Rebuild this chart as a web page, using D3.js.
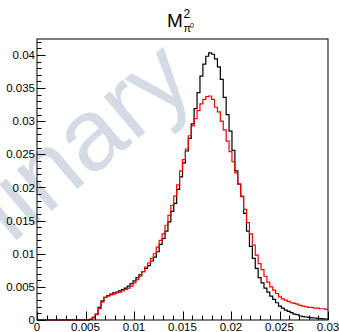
<!DOCTYPE html>
<html>
<head>
<meta charset="utf-8">
<script src="https://cdn.jsdelivr.net/npm/d3@7"></script>
<style>
  body { margin: 0; background: #fff; }
  svg { display: block; font-family: "Liberation Sans", Arial, sans-serif; }
</style>
</head>
<body>
<div id="chart"></div>
<script>
// histogram binning: 100 bins on [0, 0.03]
const xMin = 0, xMax = 0.03, nBins = 100;

// black histogram (bin contents)
const blackCounts = [
  0, 0, 0, 0, 0, 0, 0, 0, 0, 0,
  0, 0, 0, 0, 0, 0, 0, 0, 0.0001, 0.0004,
  0.0009, 0.0019, 0.0029, 0.0034, 0.0037, 0.0039, 0.0041, 0.0042, 0.0044, 0.0046,
  0.0048, 0.0051, 0.0055, 0.0059, 0.0064, 0.0068, 0.0073, 0.0078, 0.0082, 0.0089,
  0.0095, 0.0103, 0.0114, 0.0123, 0.0134, 0.0148, 0.0164, 0.0176, 0.0197, 0.0216,
  0.0237, 0.0255, 0.0274, 0.0296, 0.0319, 0.0343, 0.0368, 0.0386, 0.0398, 0.0403,
  0.0401, 0.0394, 0.0382, 0.0363, 0.0336, 0.0310, 0.0285, 0.0256, 0.0225, 0.0205,
  0.0186, 0.0161, 0.0134, 0.0111, 0.0093, 0.0078, 0.0064, 0.0056, 0.0048, 0.0042,
  0.0036, 0.0031, 0.0026, 0.0021, 0.0018, 0.0015, 0.0013, 0.0011, 0.0009, 0.0008,
  0.0006, 0.0005, 0.00045, 0.0004, 0.00033, 0.0003, 0.00025, 0.0002, 0.00017, 0.00015
];

// red histogram (bin contents)
const redCounts = [
  0, 0, 0, 0, 0, 0, 0, 0, 0, 0,
  0, 0, 0, 0, 0, 0, 0, 0, 0.0001, 0.0003,
  0.0008, 0.0017, 0.0027, 0.0034, 0.0036, 0.0038, 0.0039, 0.0041, 0.0042, 0.0044,
  0.0046, 0.0048, 0.0051, 0.0056, 0.0061, 0.0066, 0.0073, 0.0080, 0.0086, 0.0093,
  0.0100, 0.0110, 0.0120, 0.0130, 0.0143, 0.0158, 0.0173, 0.0187, 0.0204, 0.0225,
  0.0242, 0.0258, 0.0278, 0.0293, 0.0304, 0.0316, 0.0326, 0.0333, 0.0337, 0.0338,
  0.0333, 0.0321, 0.0314, 0.0300, 0.0287, 0.0270, 0.0254, 0.0239, 0.0222, 0.0205,
  0.0187, 0.0167, 0.0147, 0.0130, 0.0113, 0.0098, 0.0085, 0.0076, 0.0066, 0.0057,
  0.0050, 0.0045, 0.0040, 0.0035, 0.0032, 0.0030, 0.0028, 0.0026, 0.0025, 0.0024,
  0.0022, 0.0021, 0.0020, 0.0019, 0.0019, 0.0018, 0.0018, 0.0017, 0.0017, 0.0016
];

const xTicks = [0, 0.005, 0.01, 0.015, 0.02, 0.025, 0.03];
const xTickLabels = ["0", "0.005", "0.01", "0.015", "0.02", "0.025", "0.03"];
const yTicks = [0, 0.005, 0.01, 0.015, 0.02, 0.025, 0.03, 0.035, 0.04];
const yTickLabels = ["0", "0.005", "0.01", "0.015", "0.02", "0.025", "0.03", "0.035", "0.04"];
const yMax = 0.0424;

const W = 339, H = 332;
const frame = { left: 37, right: 328, top: 39, bottom: 320 };

let svg = d3.select("#chart").append("svg")
  .attr("width", W)
  .attr("height", H);

let x = d3.scaleLinear().domain([xMin, xMax]).range([frame.left, frame.right]);
let y = d3.scaleLinear().domain([0, yMax]).range([frame.bottom, frame.top]);

// watermark
svg.append("text")
  .attr("transform", "translate(198,88) rotate(-40)")
  .attr("text-anchor", "end")
  .style("font-size", "102px")
  .style("fill", "#d4dbe5")
  .text("Preliminary");

// step path for a histogram
const binW = (xMax - xMin) / nBins;
function stepPath(counts) {
  let pts = [];
  counts.forEach(function (c, i) {
    pts.push([x(xMin + i * binW), y(c)]);
    pts.push([x(xMin + (i + 1) * binW), y(c)]);
  });
  return d3.line()(pts);
}

svg.append("path")
  .attr("d", stepPath(blackCounts))
  .style("fill", "none")
  .style("stroke", "#000")
  .style("stroke-width", 1.2);

svg.append("path")
  .attr("d", stepPath(redCounts))
  .style("fill", "none")
  .style("stroke", "#ff0000")
  .style("stroke-width", 1.2);

// frame
svg.append("rect")
  .attr("x", frame.left)
  .attr("y", frame.top)
  .attr("width", frame.right - frame.left)
  .attr("height", frame.bottom - frame.top)
  .style("fill", "none")
  .style("stroke", "#000")
  .style("stroke-width", 1);

// y axis (ticks inside the frame)
let yAxis = svg.append("g").attr("transform", "translate(" + frame.left + ",0)");
yAxis.selectAll(".minor")
  .data(d3.range(0, 43).map(function (k) { return k * 0.001; }))
  .enter().append("line")
    .attr("x1", 0)
    .attr("x2", function (d, k) { return k % 5 === 0 ? 8.5 : 4.5; })
    .attr("y1", function (d) { return Math.round(y(d)) + 0.5; })
    .attr("y2", function (d) { return Math.round(y(d)) + 0.5; })
    .style("stroke", "#000");
yAxis.selectAll(".lab")
  .data(yTicks)
  .enter().append("text")
    .attr("x", -2)
    .attr("y", function (d) { return y(d); })
    .attr("dy", "0.36em")
    .attr("text-anchor", "end")
    .style("font-size", "11.5px")
    .text(function (d, i) { return yTickLabels[i]; });

// x axis (ticks inside the frame)
let xAxis = svg.append("g").attr("transform", "translate(0," + frame.bottom + ")");
xAxis.selectAll(".minor")
  .data(d3.range(0, 31).map(function (k) { return k * 0.001; }))
  .enter().append("line")
    .attr("x1", function (d) { return Math.round(x(d)) + 0.5; })
    .attr("x2", function (d) { return Math.round(x(d)) + 0.5; })
    .attr("y1", 0)
    .attr("y2", function (d, k) { return k % 5 === 0 ? -8.5 : -4.5; })
    .style("stroke", "#000");
xAxis.selectAll(".lab")
  .data(xTicks)
  .enter().append("text")
    .attr("x", function (d) { return x(d); })
    .attr("y", 11)
    .attr("text-anchor", "middle")
    .style("font-size", "11.5px")
    .text(function (d, i) { return xTickLabels[i]; });

// title M^2_{pi0}
let title = svg.append("g").attr("transform", "translate(167,27)");
title.append("text")
  .style("font-size", "19px")
  .text("M");
title.append("text")
  .attr("x", 16.5)
  .attr("y", -9)
  .style("font-size", "12px")
  .text("2");
title.append("text")
  .attr("x", 16.5)
  .attr("y", 5)
  .style("font-size", "11px")
  .text("π");
title.append("text")
  .attr("x", 23)
  .attr("y", 1)
  .style("font-size", "7px")
  .text("0");
</script>
</body>
</html>
